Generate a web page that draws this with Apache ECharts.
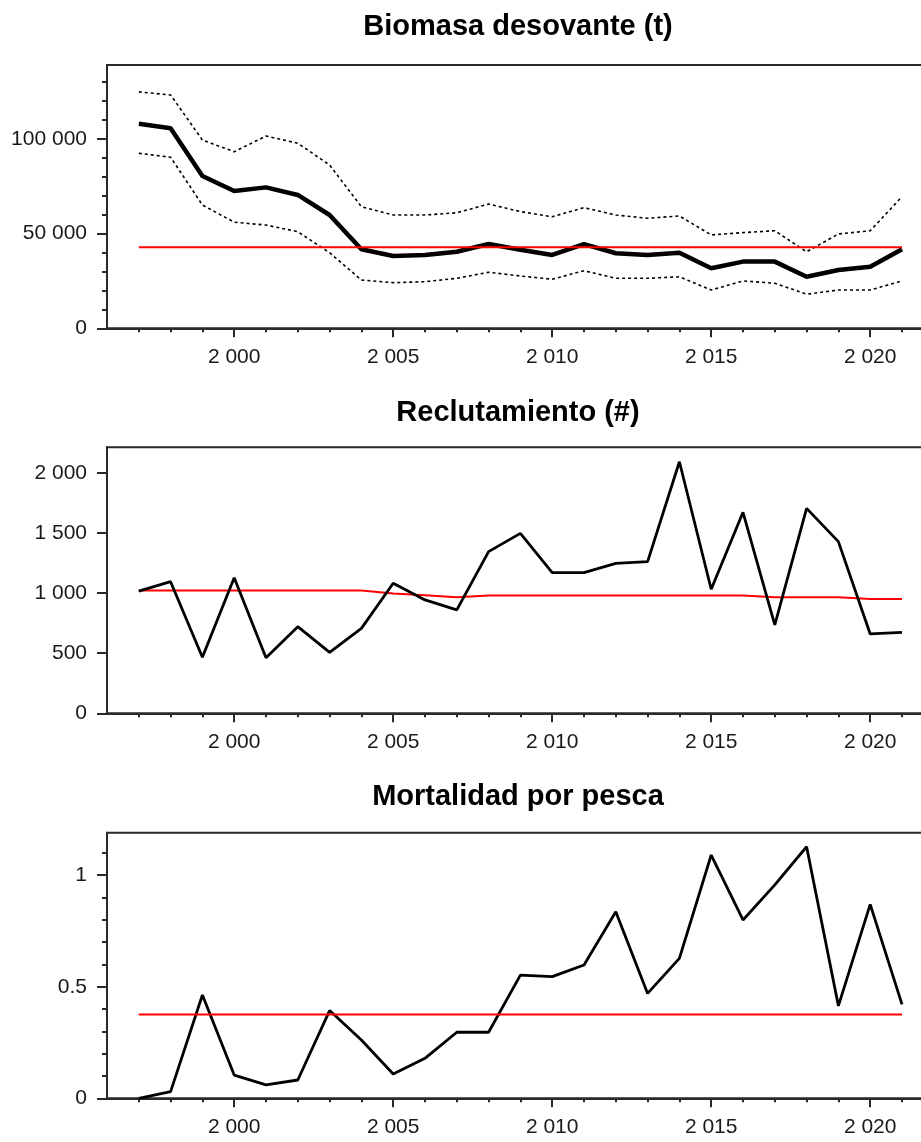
<!DOCTYPE html>
<html>
<head>
<meta charset="utf-8">
<script src="https://cdn.jsdelivr.net/npm/echarts@6/dist/echarts.min.js"></script>
<style>html,body{margin:0;padding:0;background:#fff;overflow:hidden}#c{width:945px;height:1142px}</style>
</head>
<body>
<div id="c"></div>
<script>
// ---------- data ----------
const years = [1997,1998,1999,2000,2001,2002,2003,2004,2005,2006,2007,2008,2009,2010,2011,2012,2013,2014,2015,2016,2017,2018,2019,2020,2021];
const ssb = [108000,105600,80400,72500,74400,70400,59800,41700,38200,38700,40400,44500,41500,38700,44400,39600,38700,39900,31700,35200,35200,27200,30800,32500,41700];
const ssbUpper = [124800,123200,99400,93200,101500,97700,86200,64200,59800,59800,61000,65600,61600,58900,63700,59800,58100,59300,49300,50500,51500,40400,49800,51500,69500];
const ssbLower = [92400,90300,65100,56000,54500,51000,39900,25500,24100,24600,26400,29600,27600,25900,30400,26400,26400,27200,20200,25000,23800,18000,20200,20200,25000];
const ssbRef = 42800;
const recruits = [1017,1095,466,1128,463,721,507,707,1082,943,860,1345,1497,1170,1170,1248,1262,2093,1032,1672,735,1705,1428,660,674];
const recruitsRef = [1022,1022,1022,1022,1022,1022,1022,1022,996,982,966,980,980,980,980,980,980,980,980,980,965,965,965,951,951];
const fishingF = [0.0,0.03,0.463,0.104,0.06,0.082,0.393,0.261,0.109,0.179,0.296,0.296,0.552,0.545,0.597,0.836,0.470,0.627,1.09,0.799,0.956,1.127,0.414,0.869,0.421];
const fRef = 0.376;

const titles = ['Biomasa desovante (t)', 'Reclutamiento (#)', 'Mortalidad por pesca'];
const xMajorTicks = [2000,2005,2010,2015,2020];
const xMinorTicks = [1997,1998,1999,2000,2001,2002,2003,2004,2005,2006,2007,2008,2009,2010,2011,2012,2013,2014,2015,2016,2017,2018,2019,2020,2021];
const ssbMajorTicks = [0,50000,100000];
const ssbMinorTicks = [10000,20000,30000,40000,60000,70000,80000,90000,110000,120000,130000];
const recMajorTicks = [0,500,1000,1500,2000];
const fMajorTicks = [0,0.5,1];
const fMinorTicks = [0.1,0.2,0.3,0.4,0.6,0.7,0.8,0.9,1.1];

// ---------- layout ----------
const panels = [
  {top: 65,    height: 263.3, yMax: 139000, major: ssbMajorTicks, minor: ssbMinorTicks, titleTop: 12},
  {top: 447.3, height: 266,   yMax: 2213,   major: recMajorTicks, minor: [],            titleTop: 398},
  {top: 832.7, height: 265.6, yMax: 1.19,   major: fMajorTicks,   minor: fMinorTicks,   titleTop: 782}
];
const GRID_LEFT = 107, GRID_WIDTH = 826.8;
const AX = '#2a2a2a';
const labelFont = {fontFamily: 'Liberation Sans', fontSize: 21, color: '#1a1a1a'};
const fmt = v => {
  const s = String(v);
  if (s.indexOf('.') >= 0) return s;
  return s.replace(/\B(?=(\d{3})+(?!\d))/g, ' ');
};
const pairs = (xs, ys) => xs.map((x, i) => [x, ys[i]]);

const grid = [], xAxis = [], yAxis = [], series = [], title = [];
panels.forEach((p, i) => {
  grid.push({left: GRID_LEFT, width: GRID_WIDTH, top: p.top, height: p.height,
    show: true, borderColor: AX, borderWidth: 2, backgroundColor: 'transparent'});
  title.push({text: titles[i], left: 518, top: p.titleTop, textAlign: 'center', padding: 0,
    textStyle: {fontFamily: 'Liberation Sans', fontSize: 29, fontWeight: 'bold', color: '#000'}});
  xAxis.push({type: 'value', gridIndex: i, min: 1996, max: 2022, position: 'bottom',
    axisLine: {show: true, onZero: false, lineStyle: {color: AX, width: 2}},
    axisTick: {show: true, customValues: xMajorTicks, length: 9, lineStyle: {color: AX, width: 2}},
    axisLabel: Object.assign({customValues: xMajorTicks, formatter: fmt, margin: 18}, labelFont),
    splitLine: {show: false}});
  xAxis.push({type: 'value', gridIndex: i, min: 1996, max: 2022, position: 'bottom',
    axisLine: {show: false, onZero: false},
    axisTick: {show: true, customValues: xMinorTicks, length: 4, lineStyle: {color: AX, width: 2}},
    axisLabel: {show: false}, splitLine: {show: false}});
  yAxis.push({type: 'value', gridIndex: i, min: 0, max: p.yMax, position: 'left',
    axisLine: {show: true, onZero: false, lineStyle: {color: AX, width: 2}},
    axisTick: {show: true, customValues: p.major, length: 10, lineStyle: {color: AX, width: 2}},
    axisLabel: Object.assign({customValues: p.major, formatter: fmt, margin: 20}, labelFont),
    splitLine: {show: false}});
  yAxis.push({type: 'value', gridIndex: i, min: 0, max: p.yMax, position: 'left', offset: 0,
    axisLine: {show: false, onZero: false},
    axisTick: {show: p.minor.length > 0, customValues: p.minor.length ? p.minor : [0], length: 5, lineStyle: {color: AX, width: 2}},
    axisLabel: {show: false}, splitLine: {show: false}});
});

const base = (i) => ({type: 'line', xAxisIndex: i * 2, yAxisIndex: i * 2, showSymbol: false, symbol: 'none', silent: true, animation: false});
const dotted = {color: '#000', width: 1.6, type: [3, 3]};

series.push(Object.assign(base(0), {name: 'upper', data: pairs(years, ssbUpper), lineStyle: dotted, z: 2}));
series.push(Object.assign(base(0), {name: 'lower', data: pairs(years, ssbLower), lineStyle: dotted, z: 2}));
series.push(Object.assign(base(0), {name: 'ssb', data: pairs(years, ssb), lineStyle: {color: '#000', width: 4.5}, z: 3}));
series.push(Object.assign(base(0), {name: 'ssbRef', data: [[years[0], ssbRef], [years[years.length - 1], ssbRef]], lineStyle: {color: '#ff0000', width: 2}, z: 4}));

series.push(Object.assign(base(1), {name: 'recRef', data: pairs(years, recruitsRef), lineStyle: {color: '#ff0000', width: 2}, z: 2}));
series.push(Object.assign(base(1), {name: 'rec', data: pairs(years, recruits), lineStyle: {color: '#000', width: 2.8}, z: 3}));

series.push(Object.assign(base(2), {name: 'F', data: pairs(years, fishingF), lineStyle: {color: '#000', width: 2.8}, z: 3}));
series.push(Object.assign(base(2), {name: 'fRef', data: [[years[0], fRef], [years[years.length - 1], fRef]], lineStyle: {color: '#ff0000', width: 2}, z: 4}));

const chart = echarts.init(document.getElementById('c'), null, {renderer: 'canvas'});
chart.setOption({backgroundColor: '#fff', animation: false, title, grid, xAxis, yAxis, series});
</script>
</body>
</html>
